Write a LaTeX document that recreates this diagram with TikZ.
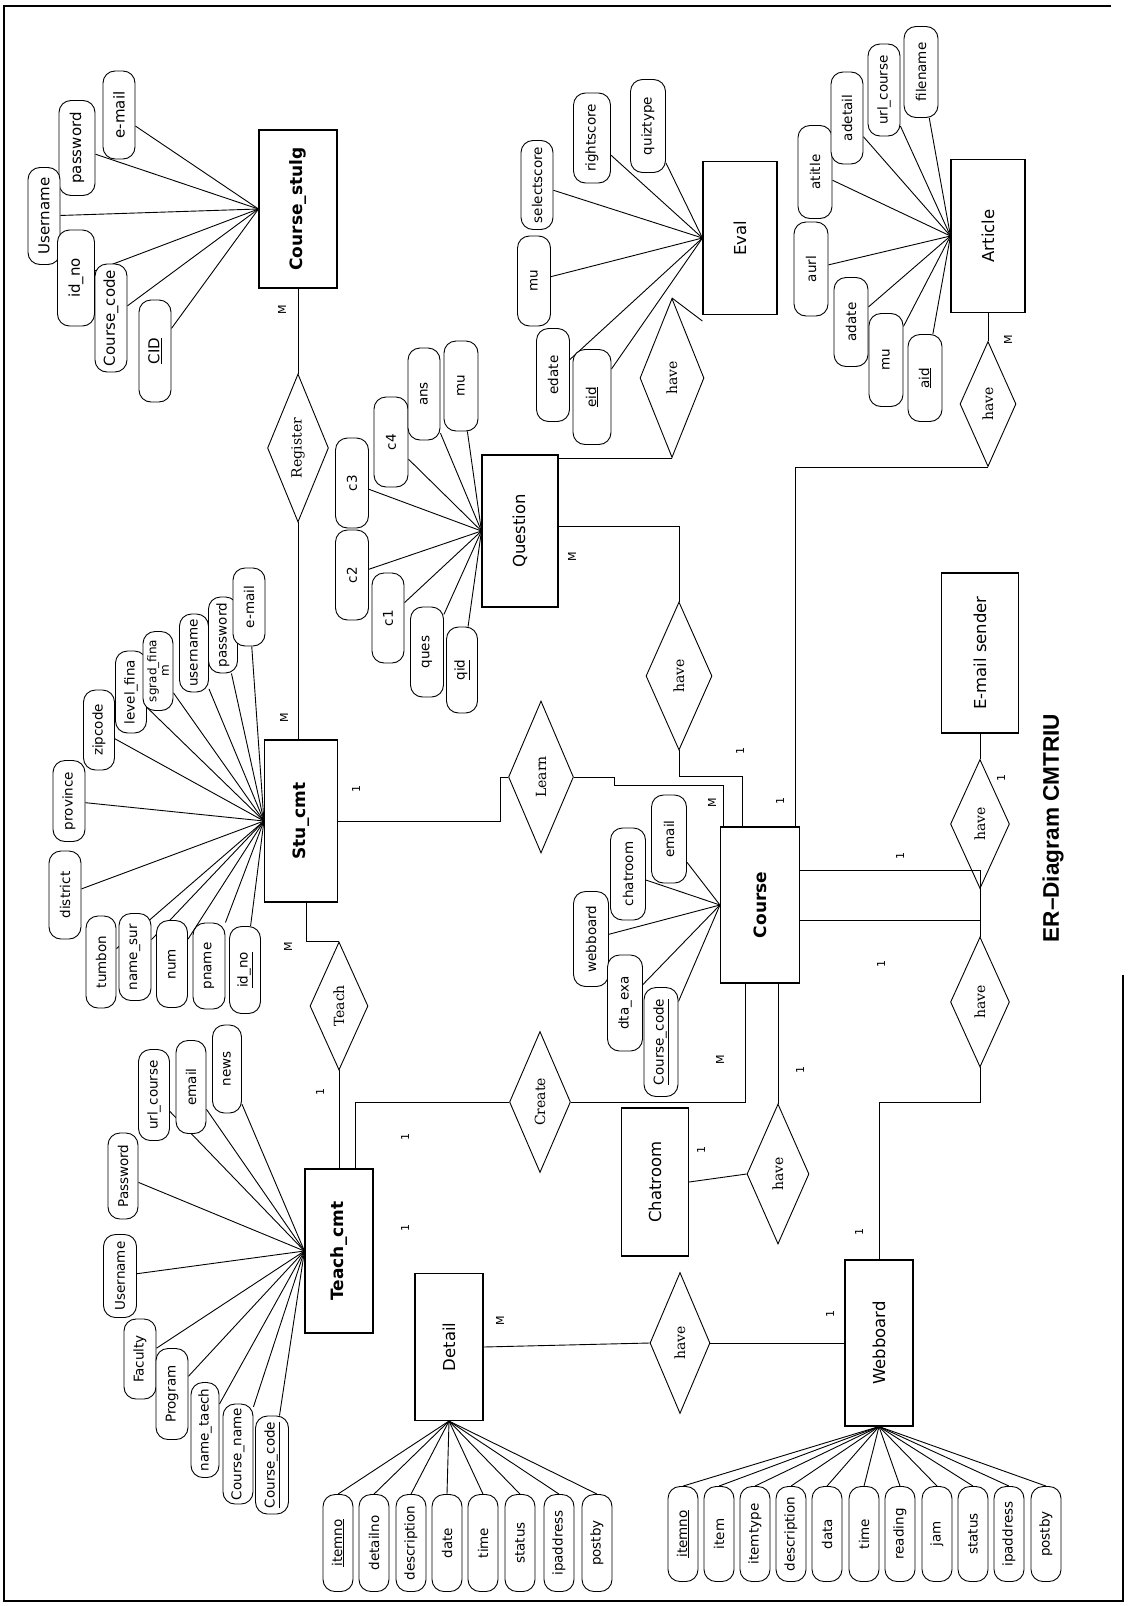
\documentclass[tikz,border=0pt]{standalone}
\usepackage{fontspec}
\setmainfont{DejaVu Sans}
\newfontfamily\relfont{DejaVu Serif}
\newfontfamily\titlefont{Liberation Sans}
\usepackage{tikz}
\usetikzlibrary{shapes.geometric, backgrounds}
\tikzset{
  every node/.style={font=\fontsize{13.5}{15}\selectfont},
  ENT/.style={draw, rotate=90, line width=1.1pt, inner sep=2pt, font=\fontsize{16.5}{18}\selectfont},
  ENTB/.style={ENT, font=\fontsize{17}{19}\selectfont\bfseries},
  ATT/.style={draw, fill=white, rotate=90, rounded corners=12pt, line width=0.9pt, inner sep=1pt,
              minimum height=32pt, minimum width=90pt},
  ATTL/.style={ATT, font=\fontsize{15}{17}\selectfont},
  REL/.style={draw, diamond, rotate=90, aspect=2.4, inner sep=0pt, line width=0.9pt,
              font=\relfont\fontsize{14}{16}\selectfont},
  CARD/.style={rotate=90, inner sep=0pt, font=\fontsize{11}{12}\selectfont},
  LN/.style={line width=0.9pt},
}
\newcommand{\alink}[2]{\draw[LN] (#1) -- (#2);}

\begin{document}
\begin{tikzpicture}[x=1pt, y=1pt, yscale=-1]

\useasboundingbox (0,0) rectangle (1128,1606);
\draw[line width=1.3pt] (1111,6) -- (4,6) -- (4,1601) -- (1123,1601) -- (1123,975);

%% ═══════════════════════════════════════════════════════════════════════════
%%  Entities
%% ═══════════════════════════════════════════════════════════════════════════

\node[ENTB, minimum width=158pt, minimum height=78pt] (CSTU) at (298,209) {Course\_stulg};
\node[ENTB, minimum width=162pt, minimum height=73pt] (STU) at (301,821) {Stu\_cmt};
\node[ENTB, minimum width=164pt, minimum height=68pt] (TCH) at (339,1251) {Teach\_cmt};
\node[ENTB, minimum width=156pt, minimum height=79pt] (CRS) at (760,905) {Course};
\node[ENT, minimum width=147pt, minimum height=68pt] (DET) at (449,1347) {Detail};
\node[ENT, minimum width=166pt, minimum height=68pt] (WEB) at (879,1343) {Webboard};
\node[ENT, minimum width=148pt, minimum height=67pt] (CHAT) at (655,1182) {Chatroom};
\node[ENT, minimum width=160pt, minimum height=77pt] (MAIL) at (980,653) {E-mail sender};
\node[ENT, minimum width=152pt, minimum height=76pt] (QST) at (520,531) {Question};
\node[ENT, minimum width=153pt, minimum height=74pt] (EVAL) at (740,238) {Eval};
\node[ENT, minimum width=153pt, minimum height=74pt] (ART) at (988,236) {Article};

%% ═══════════════════════════════════════════════════════════════════════════
%%  Relationships
%% ═══════════════════════════════════════════════════════════════════════════

\node[REL, minimum width=148pt, minimum height=61pt] (REG) at (298,448) {Register};
\node[REL, minimum width=128pt, minimum height=58pt] (TEACH) at (339,1006) {Teach};
\node[REL, minimum width=152pt, minimum height=65pt] (LEARN) at (541,777) {Learn};
\node[REL, minimum width=141pt, minimum height=61pt] (CREATE) at (540,1102) {Create};
\node[REL, minimum width=148pt, minimum height=66pt] (HQ) at (679,676) {have};
\node[REL, minimum width=159pt, minimum height=64pt] (HE) at (672,378) {have};
\node[REL, minimum width=125pt, minimum height=56pt] (HA) at (988,404) {have};
\node[REL, minimum width=129pt, minimum height=59pt] (HM) at (980,824) {have};
\node[REL, minimum width=130pt, minimum height=59pt] (HW) at (980,1002) {have};
\node[REL, minimum width=140pt, minimum height=62pt] (HC) at (778,1174) {have};
\node[REL, minimum width=141pt, minimum height=60pt] (HD) at (680,1343) {have};

\draw[LN] (CSTU.west) -- (REG.east);
\draw[LN] (REG.west) -- (REG.west |- STU.east);
\draw[LN] (STU.south) -- ++(162,0) |- (LEARN.north);
\draw[LN] (LEARN.south) -- ++(40,0) -- ++(0,8) -| ([xshift=3pt]CRS.north east);
\draw[LN] (HQ.west) -- ++(0,26) -| ([xshift=22pt]CRS.north east);
\draw[LN] ([yshift=-5pt]QST.south) -| (HQ.east);
\draw[LN] (HE.west) -- (HE.west -| QST.south);
\draw[LN] (HE.east) -- ([yshift=6pt]EVAL.north west);
\draw[LN] (HA.east) -- (ART.west);
\draw[LN] (HA.west) -| ([xshift=-5pt]CRS.south east);
\draw[LN] ([yshift=15pt]CRS.south) -| (HM.west);
\draw[LN] (HM.east) -- (MAIL.west);
\draw[LN] ([yshift=-35pt]CRS.south) -| (HW.east);
\draw[LN] (HW.west) -- ++(0,35) -| (WEB.east);
\draw[LN] (HC.east |- CRS.west) -- (HC.east);
\draw[LN] (HC.north) -- (CHAT.south);
\draw[LN] ([xshift=-15pt]CRS.west) |- (CREATE.south);
\draw[LN] (CREATE.north) -| ([xshift=16pt]TCH.east);
\draw[LN] (TEACH.west) -- (TCH.east);
\draw[LN] ([xshift=5pt]STU.west) |- (TEACH.east);
\draw[LN] (DET.south) -- (HD.north);
\draw[LN] (HD.south) -- (WEB.north);

%% cardinalities
\node[CARD] (C1) at (282,310) {M};
\node[CARD] (C2) at (284,718) {M};
\node[CARD] (C3) at (356,789) {1};
\node[CARD] (C4) at (712,803) {M};
\node[CARD] (C5) at (740,751) {1};
\node[CARD] (C6) at (572,557) {M};
\node[CARD] (C7) at (1008,340) {M};
\node[CARD] (C8) at (780,801) {1};
\node[CARD] (C9) at (900,856) {1};
\node[CARD] (C10) at (1001,778) {1};
\node[CARD] (C11) at (881,964) {1};
\node[CARD] (C12) at (859,1232) {1};
\node[CARD] (C13) at (800,1070) {1};
\node[CARD] (C14) at (701,1150) {1};
\node[CARD] (C15) at (720,1060) {M};
\node[CARD] (C16) at (405,1137) {1};
\node[CARD] (C17) at (405,1228) {1};
\node[CARD] (C18) at (320,1092) {1};
\node[CARD] (C19) at (288,947) {M};
\node[CARD] (C20) at (500,1321) {M};
\node[CARD] (C21) at (830,1314) {1};

%% ═══════════════════════════════════════════════════════════════════════════
%%  Attributes — Course_stulg
%% ═══════════════════════════════════════════════════════════════════════════

\node[ATTL, minimum width=88pt] (CSmail) at (119,115) {e-mail};
\node[ATTL, minimum width=95pt, minimum height=36pt] (CSpass) at (77,148) {password};
\node[ATTL, minimum width=97pt] (CSuser) at (44,216) {Username};
\node[ATTL, minimum width=96pt, minimum height=37pt] (CSid) at (76,278) {id\_no};
\node[ATTL, minimum width=108pt] (CScode) at (111,318) {Course\_code};
\node[ATTL, minimum width=102pt] (CScid) at (155,351) {\underline{CID}};

\begin{scope}[on background layer]
\alink{CSTU.north}{CSmail}
\alink{CSTU.north}{CSpass}
\alink{CSTU.north}{CSuser}
\alink{CSTU.north}{CSid}
\alink{CSTU.north}{CScode}
\alink{CSTU.north}{CScid}
\end{scope}

%% Stu_cmt
\node[ATT, minimum width=88pt] (STdist) at (65,895) {district};
\node[ATT, minimum width=81pt] (STprov) at (69,801) {province};
\node[ATT, minimum width=80pt, minimum height=31pt] (STzip) at (99,730) {zipcode};
\node[ATT, minimum width=82pt, minimum height=31pt] (STlev) at (131,692) {level\_fina};
\node[ATT, minimum width=79pt, minimum height=30pt, align=center,
      font=\fontsize{12}{12.5}\selectfont] (STgrad) at (158,671) {sgrad\_fina\\m};
\node[ATT, minimum width=78pt, minimum height=29pt] (STuser) at (194,653) {username};
\node[ATT, minimum width=76pt, minimum height=29pt] (STpass) at (223,635) {password};
\node[ATT, minimum width=78pt] (STmail) at (249,607) {e-mail};
\node[ATT, minimum width=92pt, minimum height=30pt] (STtum) at (101,962) {tumbon};
\node[ATT, minimum width=87pt] (STname) at (135,957) {name\_sur};
\node[ATT, minimum width=87pt, minimum height=31pt] (STnum) at (172,964) {num};
\node[ATT, minimum width=86pt] (STpn) at (209,966) {pname};
\node[ATT, minimum width=87pt, minimum height=31pt] (STid) at (245,970) {\underline{id\_no}};

\begin{scope}[on background layer]
\alink{STU.north}{STdist}
\alink{STU.north}{STprov}
\alink{STU.north}{STzip}
\alink{STU.north}{STlev}
\alink{STU.north}{STgrad}
\alink{STU.north}{STuser}
\alink{STU.north}{STpass}
\alink{STU.north}{STmail}
\alink{STU.north}{STtum}
\alink{STU.north}{STname}
\alink{STU.north}{STnum}
\alink{STU.north}{STpn}
\alink{STU.north}{STid}
\end{scope}

%% Question
\node[ATT, minimum width=90pt, minimum height=33pt] (Qc3) at (352,483) {c3};
\node[ATT, minimum width=90pt, minimum height=34pt] (Qc4) at (391,442) {c4};
\node[ATT, minimum width=92pt] (Qans) at (424,394) {ans};
\node[ATT, minimum width=90pt, minimum height=34pt] (Qmu) at (461,386) {mu};
\node[ATT, minimum width=90pt, minimum height=33pt] (Qc2) at (352,575) {c2};
\node[ATT, minimum width=90pt] (Qc1) at (388,618) {c1};
\node[ATT, minimum width=90pt, minimum height=33pt] (Qques) at (427,652) {ques};
\node[ATT, minimum width=86pt, minimum height=31pt] (Qqid) at (462,670) {\underline{qid}};

\begin{scope}[on background layer]
\alink{QST.north}{Qc3}
\alink{QST.north}{Qc4}
\alink{QST.north}{Qans}
\alink{QST.north}{Qmu}
\alink{QST.north}{Qc2}
\alink{QST.north}{Qc1}
\alink{QST.north}{Qques}
\alink{QST.north}{Qqid}
\end{scope}

%% Eval
\node[ATT, minimum width=89pt] (Esel) at (537,185) {selectscore};
\node[ATT, minimum width=90pt, minimum height=33pt] (Emu) at (534,281) {mu};
\node[ATT, minimum width=93pt, minimum height=33pt] (Edate) at (553,375) {edate};
\node[ATT, minimum width=95pt, minimum height=38pt] (Eeid) at (592,397) {\underline{eid}};
\node[ATT, minimum width=90pt, minimum height=37pt] (Eright) at (592,138) {rightscore};
\node[ATT, minimum width=93pt, minimum height=35pt] (Equiz) at (648,126) {quiztype};

\begin{scope}[on background layer]
\alink{EVAL.north}{Esel}
\alink{EVAL.north}{Emu}
\alink{EVAL.north}{Edate}
\alink{EVAL.north}{Eeid}
\alink{EVAL.north}{Eright}
\alink{EVAL.north}{Equiz}
\end{scope}

%% Article
\node[ATT, minimum width=93pt, minimum height=34pt] (Atit) at (815,172) {atitle};
\node[ATT, minimum width=92pt] (Adet) at (847,118) {adetail};
\node[ATT, minimum width=92pt] (Aurlc) at (884,90) {url\_course};
\node[ATT, minimum width=91pt, minimum height=34pt] (Afile) at (921,72) {filename};
\node[ATT, minimum width=94pt, minimum height=34pt] (Aurl) at (811,269) {aurl};
\node[ATT, minimum width=89pt, minimum height=34pt] (Adate) at (851,322) {adate};
\node[ATT, minimum width=93pt, minimum height=34pt] (Amu) at (886,360) {mu};
\node[ATT, minimum width=87pt, minimum height=34pt] (Aaid) at (925,378) {\underline{aid}};

\begin{scope}[on background layer]
\alink{ART.north}{Atit}
\alink{ART.north}{Adet}
\alink{ART.north}{Aurlc}
\alink{ART.north}{Afile}
\alink{ART.north}{Aurl}
\alink{ART.north}{Adate}
\alink{ART.north}{Amu}
\alink{ART.north}{Aaid}
\end{scope}

%% Teach_cmt
\node[ATT, minimum width=83pt, minimum height=33pt] (Tuser) at (120,1276) {Username};
\node[ATT, minimum width=86pt, minimum height=30pt] (Tpass) at (123,1176) {Password};
\node[ATT, minimum width=91pt, minimum height=31pt] (Turl) at (154,1095) {url\_course};
\node[ATT, minimum width=93pt, minimum height=30pt] (Tmail) at (191,1087) {email};
\node[ATT, minimum width=88pt, minimum height=29pt] (Tnews) at (227,1069) {news};
\node[ATT, minimum width=80pt] (Tfac) at (140,1359) {Faculty};
\node[ATT, minimum width=91pt] (Tprog) at (172,1394) {Program};
\node[ATT, minimum width=95pt, minimum height=28pt] (Tname) at (205,1430) {name\_taech};
\node[ATT, minimum width=100pt, minimum height=30pt] (Tcname) at (238,1454) {Course\_name};
\node[ATT, minimum width=98pt, minimum height=33pt] (Tcode) at (272,1465) {\underline{Course\_code}};

\begin{scope}[on background layer]
\alink{TCH.north}{Tuser}
\alink{TCH.north}{Tpass}
\alink{TCH.north}{Turl}
\alink{TCH.north}{Tmail}
\alink{TCH.north}{Tnews}
\alink{TCH.north}{Tfac}
\alink{TCH.north}{Tprog}
\alink{TCH.north}{Tname}
\alink{TCH.north}{Tcname}
\alink{TCH.north}{Tcode}
\end{scope}

%% Course
\node[ATT, minimum width=88pt, minimum height=35pt] (Cmail) at (669,839) {email};
\node[ATT, minimum width=92pt, minimum height=35pt] (Cchat) at (628,874) {chatroom};
\node[ATT, minimum width=95pt, minimum height=35pt] (Cweb) at (591,939) {webboard};
\node[ATT, minimum width=96pt, minimum height=35pt] (Cdta) at (625,1003) {dta\_exa};
\node[ATT, minimum width=109pt, minimum height=34pt] (Ccode) at (661,1042) {\underline{Course\_code}};

\begin{scope}[on background layer]
\alink{CRS.north}{Cmail}
\alink{CRS.north}{Cchat}
\alink{CRS.north}{Cweb}
\alink{CRS.north}{Cdta}
\alink{CRS.north}{Ccode}
\end{scope}

%% Detail
\node[ATT, minimum width=97pt, minimum height=30pt] (D1) at (338,1543) {\underline{itemno}};
\node[ATT, minimum width=97pt, minimum height=30pt] (D2) at (374,1543) {detailno};
\node[ATT, minimum width=97pt, minimum height=30pt] (D3) at (411,1543) {description};
\node[ATT, minimum width=97pt, minimum height=30pt] (D4) at (447,1543) {date};
\node[ATT, minimum width=97pt, minimum height=30pt] (D5) at (483,1543) {time};
\node[ATT, minimum width=97pt, minimum height=30pt] (D6) at (520,1543) {status};
\node[ATT, minimum width=97pt, minimum height=30pt] (D7) at (559,1543) {ipaddress};
\node[ATT, minimum width=97pt, minimum height=30pt] (D8) at (597,1543) {postby};

\alink{DET.west}{D1.east}
\alink{DET.west}{D2.east}
\alink{DET.west}{D3.east}
\alink{DET.west}{D4.east}
\alink{DET.west}{D5.east}
\alink{DET.west}{D6.east}
\alink{DET.west}{D7.east}
\alink{DET.west}{D8.east}

%% Webboard
\node[ATT, minimum width=95pt, minimum height=30pt] (W1) at (683,1534) {\underline{itemno}};
\node[ATT, minimum width=95pt, minimum height=30pt] (W2) at (719,1534) {item};
\node[ATT, minimum width=95pt, minimum height=30pt] (W3) at (755,1534) {itemtype};
\node[ATT, minimum width=95pt, minimum height=30pt] (W4) at (791,1534) {description};
\node[ATT, minimum width=95pt, minimum height=30pt] (W5) at (827,1534) {data};
\node[ATT, minimum width=95pt, minimum height=30pt] (W6) at (864,1534) {time};
\node[ATT, minimum width=95pt, minimum height=30pt] (W7) at (900,1534) {reading};
\node[ATT, minimum width=95pt, minimum height=30pt] (W8) at (937,1534) {jam};
\node[ATT, minimum width=95pt, minimum height=30pt] (W9) at (973,1534) {status};
\node[ATT, minimum width=95pt, minimum height=30pt] (W10) at (1009,1534) {ipaddress};
\node[ATT, minimum width=95pt, minimum height=30pt] (W11) at (1046,1534) {postby};

\alink{WEB.west}{W1.east}
\alink{WEB.west}{W2.east}
\alink{WEB.west}{W3.east}
\alink{WEB.west}{W4.east}
\alink{WEB.west}{W5.east}
\alink{WEB.west}{W6.east}
\alink{WEB.west}{W7.east}
\alink{WEB.west}{W8.east}
\alink{WEB.west}{W9.east}
\alink{WEB.west}{W10.east}
\alink{WEB.west}{W11.east}

%% Title
\node[rotate=90, font=\titlefont\fontsize{22.6}{26}\selectfont\bfseries] (TTL) at (1053,828)
  {ER\textendash Diagram CMTRIU};

\end{tikzpicture}
\end{document}
